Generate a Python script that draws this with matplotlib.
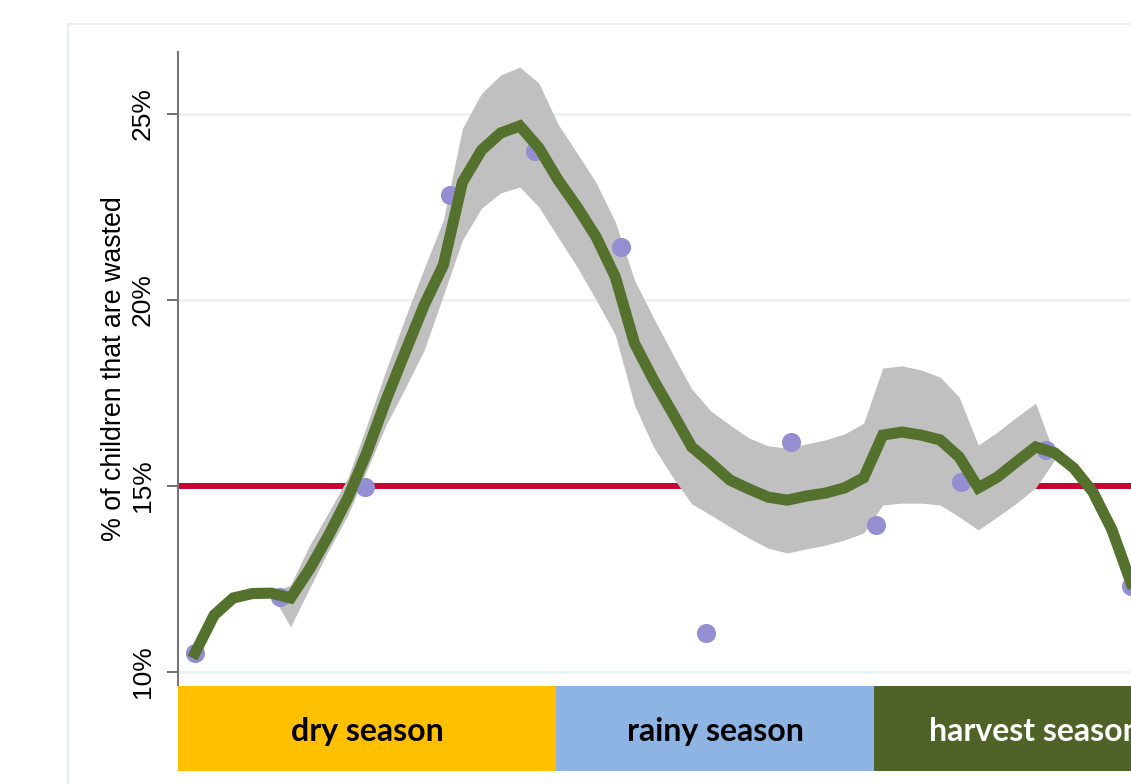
import numpy as np
import matplotlib.pyplot as plt
from matplotlib.patches import Rectangle

# ---------------------------
# Data
# ---------------------------

months = np.arange(1, 13)
wasted = [10.52, 12.02, 14.97, 22.83, 24.0, 21.42, 11.05, 16.18, 13.95, 15.1, 15.98, 12.3]

# smoothed fit, evaluated on 50 points from month 1 to 12
grid = np.linspace(1, 12, 50)
smooth = [10.51, 11.53, 11.99, 12.11, 12.12, 11.99, 12.77, 13.68, 14.68, 15.91,
          17.31, 18.60, 19.87, 20.94, 23.17, 24.03, 24.49, 24.68, 24.09, 23.23,
          22.50, 21.69, 20.62, 18.84, 17.85, 16.96, 16.05, 15.62, 15.16, 14.92,
          14.70, 14.62, 14.73, 14.81, 14.95, 15.22, 16.37, 16.45, 16.37, 16.24,
          15.78, 14.95, 15.24, 15.65, 16.05, 15.89, 15.48, 14.84, 13.82, 12.39]

# confidence band, only available for grid points 4..45
ci_first, ci_last = 4, 45
ci_hi = [12.12, 12.34, 13.41, 14.30, 15.22, 16.64, 18.12, 19.52, 20.86, 22.15,
         24.62, 25.56, 26.05, 26.26, 25.83, 24.73, 23.95, 23.15, 22.10, 20.54,
         19.52, 18.55, 17.61, 17.02, 16.64, 16.29, 16.08, 16.02, 16.13, 16.24,
         16.40, 16.69, 18.17, 18.23, 18.12, 17.93, 17.39, 16.10, 16.45, 16.85,
         17.23, 15.83]
ci_lo = [12.12, 11.21, 12.26, 13.28, 14.22, 15.43, 16.64, 17.63, 18.66, 20.13,
         21.61, 22.47, 22.88, 23.04, 22.50, 21.69, 20.89, 20.00, 19.06, 17.18,
         16.05, 15.24, 14.52, 14.22, 13.90, 13.60, 13.33, 13.20, 13.31, 13.41,
         13.55, 13.74, 14.49, 14.54, 14.54, 14.49, 14.17, 13.82, 14.17, 14.54,
         14.95, 15.70]

threshold = 15

seasons = ["dry season", "rainy season", "harvest season"]
season_start = [0.8, 5.24, 8.98]
season_end = [5.24, 8.98, 12.76]
season_colors = ["#FFC000", "#8DB4E2", "#4F6228"]
season_text = ["black", "black", "white"]

yticks = [10, 15, 20, 25]

# ---------------------------
# Figure
# ---------------------------

W, H = 1131, 784
fig = plt.figure(figsize=(W / 100, H / 100), dpi=100)

# light outer frame (cut off on the right / bottom)
fig.patches.append(Rectangle((68 / W, -0.2), 1.2, (H - 24) / H + 0.2,
                             transform=fig.transFigure, fill=False,
                             edgecolor="#E6EEEF", lw=1.5))

x_left, x_right = 0.8, 12.76
ax_left = 178 / W
ax_width = (x_right - x_left) * 85.1 / W

ax = fig.add_axes([ax_left, (H - 685) / H, ax_width, 633 / H])

ax.axhline(threshold, color="#C80032", lw=4.3, zorder=2)
ax.fill_between(grid[ci_first:ci_last + 1], ci_lo, ci_hi, color="#C0C0C0",
                lw=0, zorder=3)
ax.scatter(months, wasted, s=190, color="#948FD2", lw=0, zorder=4)
ax.plot(grid, smooth, color="#54722E", lw=8, zorder=5, solid_joinstyle="miter")

ax.set_xlim(x_left, x_right)
ax.set_ylim(9.651, 26.667)
ax.set_yticks(yticks)
ax.set_yticklabels([f"{t}%" for t in yticks], rotation=90, va="center",
                   fontsize=19, family="Liberation Sans")
ax.tick_params(axis="y", length=8, width=1.2, color="#555555", pad=8.5)
ax.tick_params(axis="x", bottom=False, labelbottom=False)
ax.yaxis.grid(True, color="#EAF2F3", lw=2)
ax.set_axisbelow(True)
for s in ["top", "right", "bottom"]:
    ax.spines[s].set_visible(False)
ax.spines["left"].set_color("#777777")
ax.spines["left"].set_linewidth(1.5)
ax.set_ylabel("% of children that are wasted", fontsize=19.3,
              family="Liberation Sans", labelpad=3)

# ---- season strip ----
ax2 = fig.add_axes([ax_left, 13 / H, ax_width, 85 / H])
widths = np.array(season_end) - np.array(season_start)
ax2.barh(0, widths, left=season_start, height=1, color=season_colors, lw=0)
for name, st, en, tc in zip(seasons, season_start, season_end, season_text):
    ax2.text((st + en) / 2, -0.03, name, ha="center", va="center",
             fontsize=23, fontweight="bold", family="Lato", color=tc)
ax2.set_xlim(x_left, x_right)
ax2.set_ylim(-0.5, 0.5)
ax2.axis("off")

fig.savefig("out.png", dpi=100)
